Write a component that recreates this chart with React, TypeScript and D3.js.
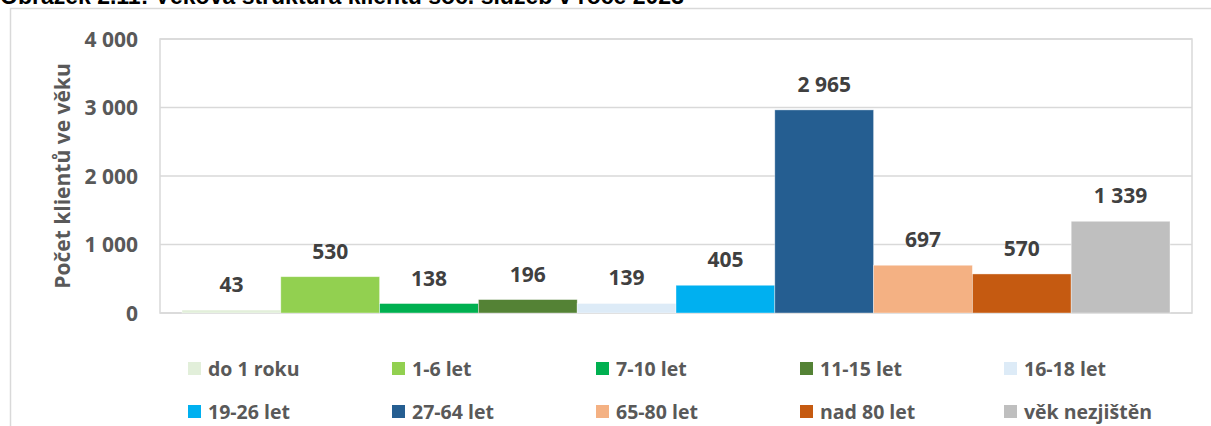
import React, { useEffect, useRef } from 'react';
import * as d3 from 'd3';

// age groups and client counts
const categories = [
  'do 1 roku',
  '1-6 let',
  '7-10 let',
  '11-15 let',
  '16-18 let',
  '19-26 let',
  '27-64 let',
  '65-80 let',
  'nad 80 let',
  'věk nezjištěn',
];
const values = [43, 530, 138, 196, 139, 405, 2965, 697, 570, 1339];
const colors = [
  '#E2EFDA',
  '#92D050',
  '#00B050',
  '#548235',
  '#DDEBF7',
  '#00B0F0',
  '#255E91',
  '#F4B183',
  '#C55A11',
  '#BFBFBF',
];
const yTicks = [0, 1000, 2000, 3000, 4000];
const titleText = 'Obrázek 2.11: Věková struktura klientů soc. služeb v roce 2023';
const yTitle = 'Počet klientů ve věku';

const fmt = (v: number) => d3.format(',')(v).replace(/,/g, ' ');

const App = () => {
  const svgRef = useRef<SVGSVGElement | null>(null);

  useEffect(() => {
    const W = 1211;
    const H = 426;
    const font = "'Open Sans', sans-serif";
    const svg = d3.select(svgRef.current).attr('width', W).attr('height', H);
    svg.selectAll('*').remove();

    // plot area
    const plot = { left: 160, right: 1192, top: 39, bottom: 313 };

    // caption, cut off by the top edge like in the source
    svg
      .append('text')
      .attr('x', 0)
      .attr('y', 4)
      .style('font-family', "'Liberation Sans', Arial, sans-serif")
      .style('font-weight', 'bold')
      .style('font-size', '23px')
      .style('fill', '#000')
      .text(titleText);

    // outer chart frame
    svg
      .append('rect')
      .attr('x', 10.5)
      .attr('y', 8.5)
      .attr('width', W)
      .attr('height', H)
      .attr('fill', '#fff')
      .attr('stroke', '#D9D9D9')
      .attr('stroke-width', 1.5);

    const x = d3.scaleBand<string>().domain(categories).range([182, 1170]).paddingInner(0);
    const y = d3.scaleLinear().domain([0, 4000]).range([plot.bottom, plot.top]);

    // gridlines
    svg
      .append('g')
      .selectAll('line')
      .data(yTicks)
      .enter()
      .append('line')
      .attr('x1', plot.left)
      .attr('x2', plot.right)
      .attr('y1', (d) => y(d))
      .attr('y2', (d) => y(d))
      .attr('stroke', '#D9D9D9')
      .attr('stroke-width', 1.5);

    // plot border
    svg
      .append('rect')
      .attr('x', plot.left)
      .attr('y', plot.top)
      .attr('width', plot.right - plot.left)
      .attr('height', plot.bottom - plot.top)
      .attr('fill', 'none')
      .attr('stroke', '#D9D9D9')
      .attr('stroke-width', 1.5);

    // y tick labels
    svg
      .append('g')
      .selectAll('text')
      .data(yTicks)
      .enter()
      .append('text')
      .attr('x', 138)
      .attr('y', (d) => y(d) + 7.5)
      .attr('text-anchor', 'end')
      .style('font-family', font)
      .style('font-weight', 'bold')
      .style('font-size', '21px')
      .style('fill', '#595959')
      .text((d) => fmt(d));

    // y axis title
    svg
      .append('text')
      .attr('transform', `translate(70, 176) rotate(-90)`)
      .attr('text-anchor', 'middle')
      .style('font-family', font)
      .style('font-weight', 'bold')
      .style('font-size', '21px')
      .style('fill', '#595959')
      .text(yTitle);

    // bars
    svg
      .append('g')
      .selectAll('rect')
      .data(values)
      .enter()
      .append('rect')
      .attr('x', (d, i) => x(categories[i])!)
      .attr('width', x.bandwidth())
      .attr('y', (d) => y(d))
      .attr('height', (d) => y(0) - y(d))
      .attr('fill', (d, i) => colors[i])
      .attr('stroke', 'rgba(255,255,255,0.5)')
      .attr('stroke-width', 0.75);

    // data labels
    svg
      .append('g')
      .selectAll('text')
      .data(values)
      .enter()
      .append('text')
      .attr('x', (d, i) => x(categories[i])! + x.bandwidth() / 2)
      .attr('y', (d) => y(d) - 18)
      .attr('text-anchor', 'middle')
      .style('font-family', font)
      .style('font-weight', 'bold')
      .style('font-size', '21px')
      .style('fill', '#404040')
      .text((d) => fmt(d));

    // legend: 5 columns, 2 rows
    const legend = svg
      .append('g')
      .selectAll('g')
      .data(categories)
      .enter()
      .append('g')
      .attr('transform', (d, i) => `translate(${188 + (i % 5) * 204}, ${362 + Math.floor(i / 5) * 43})`);

    legend
      .append('rect')
      .attr('width', 13)
      .attr('height', 13)
      .attr('fill', (d, i) => colors[i]);

    legend
      .append('text')
      .attr('x', 20)
      .attr('y', 13.5)
      .style('font-family', font)
      .style('font-weight', 'bold')
      .style('font-size', '19.5px')
      .style('fill', '#595959')
      .text((d) => d);
  }, []);

  return (
    <div style={{ position: 'absolute', left: 0, top: 0 }}>
      <svg ref={svgRef} style={{ display: 'block' }}></svg>
    </div>
  );
};

export default App;
